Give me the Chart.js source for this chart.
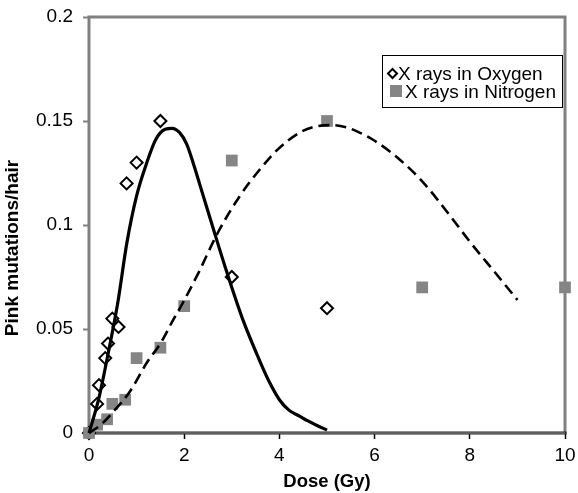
<!DOCTYPE html>
<html>
<head>
<meta charset="utf-8">
<script src="https://cdn.jsdelivr.net/npm/chart.js@4.4.0/dist/chart.umd.min.js"></script>
<style>
  html, body { margin: 0; padding: 0; background: #fff; }
  #wrap { width: 578px; height: 493px; }
</style>
</head>
<body>
<div id="wrap"><canvas id="c" width="578" height="493"></canvas></div>
<script>
// Measured mutation frequencies (pink mutations per hair) against dose (Gy)
const oxygenDose  = [0, 0.17, 0.21, 0.34, 0.40, 0.49, 0.62, 0.79, 1.0, 1.5, 3, 5];
const oxygenRate  = [0, 0.014, 0.023, 0.036, 0.043, 0.055, 0.051, 0.120, 0.130, 0.150, 0.075, 0.060];

const nitrogenDose = [0, 0.17, 0.38, 0.49, 0.76, 1.0, 1.5, 2, 3, 5, 7, 10];
const nitrogenRate = [0, 0.004, 0.0066, 0.014, 0.016, 0.036, 0.041, 0.061, 0.131, 0.150, 0.070, 0.070];

// Fitted trend curves
const oxygenFitDose = [0, 0.2, 0.4, 0.6, 0.8, 1.0, 1.2, 1.4, 1.6, 1.75, 1.9, 2.05, 2.2, 2.4, 2.6, 2.9, 3.24, 3.6, 3.8, 4.0, 4.2, 4.43, 4.6, 4.8, 5.0];
const oxygenFitRate = [0, 0.016, 0.038, 0.062, 0.092, 0.114, 0.129, 0.141, 0.146, 0.1465, 0.1445, 0.139, 0.129, 0.114, 0.099, 0.077, 0.054, 0.034, 0.024, 0.016, 0.0110, 0.0080, 0.0058, 0.0035, 0.0014];

const nitrogenFitDose = [0, 0.25, 0.5, 0.86, 1.22, 1.5, 1.76, 1.97, 2.3, 2.7, 3.17, 3.6, 3.95, 4.43, 4.79, 5.1, 5.4, 5.63, 6.0, 6.5, 7.0, 7.5, 8.0, 8.5, 9.0];
const nitrogenFitRate = [0, 0.004, 0.010, 0.020, 0.034, 0.043, 0.054, 0.0625, 0.077, 0.096, 0.114, 0.127, 0.136, 0.1445, 0.1475, 0.148, 0.147, 0.145, 0.1405, 0.132, 0.121, 0.107, 0.092, 0.078, 0.064];

// Axis ticks
const xTicks = [0, 2, 4, 6, 8, 10];
const xTickLabels = ['0', '2', '4', '6', '8', '10'];
const yTicks = [0, 0.05, 0.1, 0.15, 0.2];
const yTickLabels = ['0', '0.05', '0.1', '0.15', '0.2'];

const seriesLabels = ['X rays in Oxygen', 'X rays in Nitrogen'];
const xTitle = 'Dose (Gy)';
const yTitle = 'Pink mutations/hair';

const pts = (xs, ys) => xs.map((x, i) => ({ x: x, y: ys[i] }));

const FONT = "'Liberation Sans', Arial, Helvetica, sans-serif";
const GRAY = '#858585';

// Plot frame drawn under the markers
const framePlugin = {
  id: 'frame',
  beforeDatasetsDraw(chart) {
    const { ctx, chartArea: a } = chart;
    ctx.save();
    ctx.strokeStyle = '#808080';
    ctx.lineWidth = 3;
    ctx.beginPath();
    ctx.moveTo(a.left, a.bottom);
    ctx.lineTo(a.left, a.top);
    ctx.lineTo(a.right, a.top);
    ctx.lineTo(a.right, a.bottom);
    ctx.stroke();
    // x axis line
    ctx.strokeStyle = '#222';
    ctx.lineWidth = 3;
    ctx.beginPath();
    ctx.moveTo(a.left - 1, a.bottom);
    ctx.lineTo(a.right + 1.5, a.bottom);
    ctx.stroke();
    ctx.strokeStyle = '#9a9a9a';
    ctx.lineWidth = 1;
    ctx.beginPath();
    ctx.moveTo(a.left, a.bottom);
    ctx.lineTo(a.right, a.bottom);
    ctx.stroke();
    ctx.restore();
  }
};

// Vertical axis title, set a little below the plot centre
const yTitlePlugin = {
  id: 'yTitle',
  afterDraw(chart) {
    const { ctx } = chart;
    ctx.save();
    ctx.translate(13, 248);
    ctx.rotate(-Math.PI / 2);
    ctx.font = 'bold 19px ' + FONT;
    ctx.fillStyle = '#000';
    ctx.textAlign = 'center';
    ctx.textBaseline = 'middle';
    ctx.fillText(yTitle, 0, 0);
    ctx.restore();
  }
};

// Boxed legend inside the plot
const legendBoxPlugin = {
  id: 'legendBox',
  afterDraw(chart) {
    const { ctx } = chart;
    const bx = 382.5, by = 55.5, bw = 180, bh = 52;
    ctx.save();
    ctx.fillStyle = '#fff';
    ctx.fillRect(bx, by, bw, bh);
    ctx.strokeStyle = '#000';
    ctx.lineWidth = 1;
    ctx.strokeRect(bx, by, bw, bh);

    ctx.font = '19px ' + FONT;
    ctx.fillStyle = '#000';
    ctx.textBaseline = 'alphabetic';

    // diamond entry
    const dx = 392.5, dy = 73.5, r = 4.5;
    ctx.beginPath();
    ctx.moveTo(dx, dy - r);
    ctx.lineTo(dx + r, dy);
    ctx.lineTo(dx, dy + r);
    ctx.lineTo(dx - r, dy);
    ctx.closePath();
    ctx.fillStyle = '#fff';
    ctx.fill();
    ctx.strokeStyle = '#000';
    ctx.lineWidth = 2;
    ctx.stroke();
    ctx.fillStyle = '#000';
    ctx.fillText(chart.data.datasets[0].label, 398, 80);

    // square entry
    ctx.fillStyle = GRAY;
    ctx.fillRect(390, 85, 12, 12);
    ctx.fillStyle = '#000';
    ctx.fillText(chart.data.datasets[1].label, 405, 98);
    ctx.restore();
  }
};

new Chart(document.getElementById('c'), {
  type: 'scatter',
  data: {
    datasets: [
      {
        label: seriesLabels[0],
        data: pts(oxygenDose, oxygenRate),
        pointStyle: 'rectRot',
        pointRadius: 6,
        pointBorderWidth: 2,
        pointBackgroundColor: '#fff',
        pointBorderColor: '#000',
        showLine: false,
        clip: false,
        order: 3
      },
      {
        label: seriesLabels[1],
        data: pts(nitrogenDose, nitrogenRate),
        pointStyle: 'rect',
        pointRadius: 8.3,
        pointBorderWidth: 0,
        pointBackgroundColor: GRAY,
        pointBorderColor: GRAY,
        showLine: false,
        clip: false,
        order: 2
      },
      {
        label: 'oxygen fit',
        data: pts(oxygenFitDose, oxygenFitRate),
        showLine: true,
        pointRadius: 0,
        borderColor: '#000',
        borderWidth: 3.2,
        cubicInterpolationMode: 'monotone',
        fill: false,
        clip: false,
        order: 0
      },
      {
        label: 'nitrogen fit',
        data: pts(nitrogenFitDose, nitrogenFitRate),
        showLine: true,
        pointRadius: 0,
        borderColor: '#000',
        borderWidth: 2.6,
        borderDash: [11, 6],
        cubicInterpolationMode: 'monotone',
        fill: false,
        clip: false,
        order: 1
      }
    ]
  },
  options: {
    responsive: false,
    animation: false,
    devicePixelRatio: 1,
    layout: { padding: { top: 17, right: 13, left: 0, bottom: 0 } },
    plugins: {
      legend: { display: false },
      tooltip: { enabled: false }
    },
    scales: {
      x: {
        type: 'linear',
        min: 0, max: 10,
        afterFit(s) { s.height = 60; s.paddingLeft = 0; s.paddingRight = 0; },
        afterBuildTicks(s) { s.ticks = xTicks.map(v => ({ value: v })); },
        grid: { display: true, drawOnChartArea: false, drawTicks: true, tickLength: 6, tickColor: '#000', tickWidth: 1.5 },
        border: { display: false },
        ticks: {
          padding: 5,
          color: '#000',
          font: { family: FONT, size: 19 },
          maxRotation: 0,
          callback: (v, i) => xTickLabels[i]
        },
        title: {
          display: true,
          text: xTitle,
          color: '#000',
          font: { family: FONT, size: 18.5, weight: 'bold' },
          padding: { top: 0, bottom: 0 }
        }
      },
      y: {
        type: 'linear',
        min: 0, max: 0.2,
        afterFit(s) { s.width = 89; s.paddingTop = 0; s.paddingBottom = 0; },
        afterBuildTicks(s) { s.ticks = yTicks.map(v => ({ value: v })); },
        grid: { display: true, drawOnChartArea: false, drawTicks: true, tickLength: 6, tickColor: '#808080', tickWidth: 2 },
        border: { display: false },
        ticks: {
          padding: 10,
          color: '#000',
          font: { family: FONT, size: 19 },
          callback: (v, i) => yTickLabels[i]
        }
      }
    }
  },
  plugins: [framePlugin, yTitlePlugin, legendBoxPlugin]
});
</script>
</body>
</html>
